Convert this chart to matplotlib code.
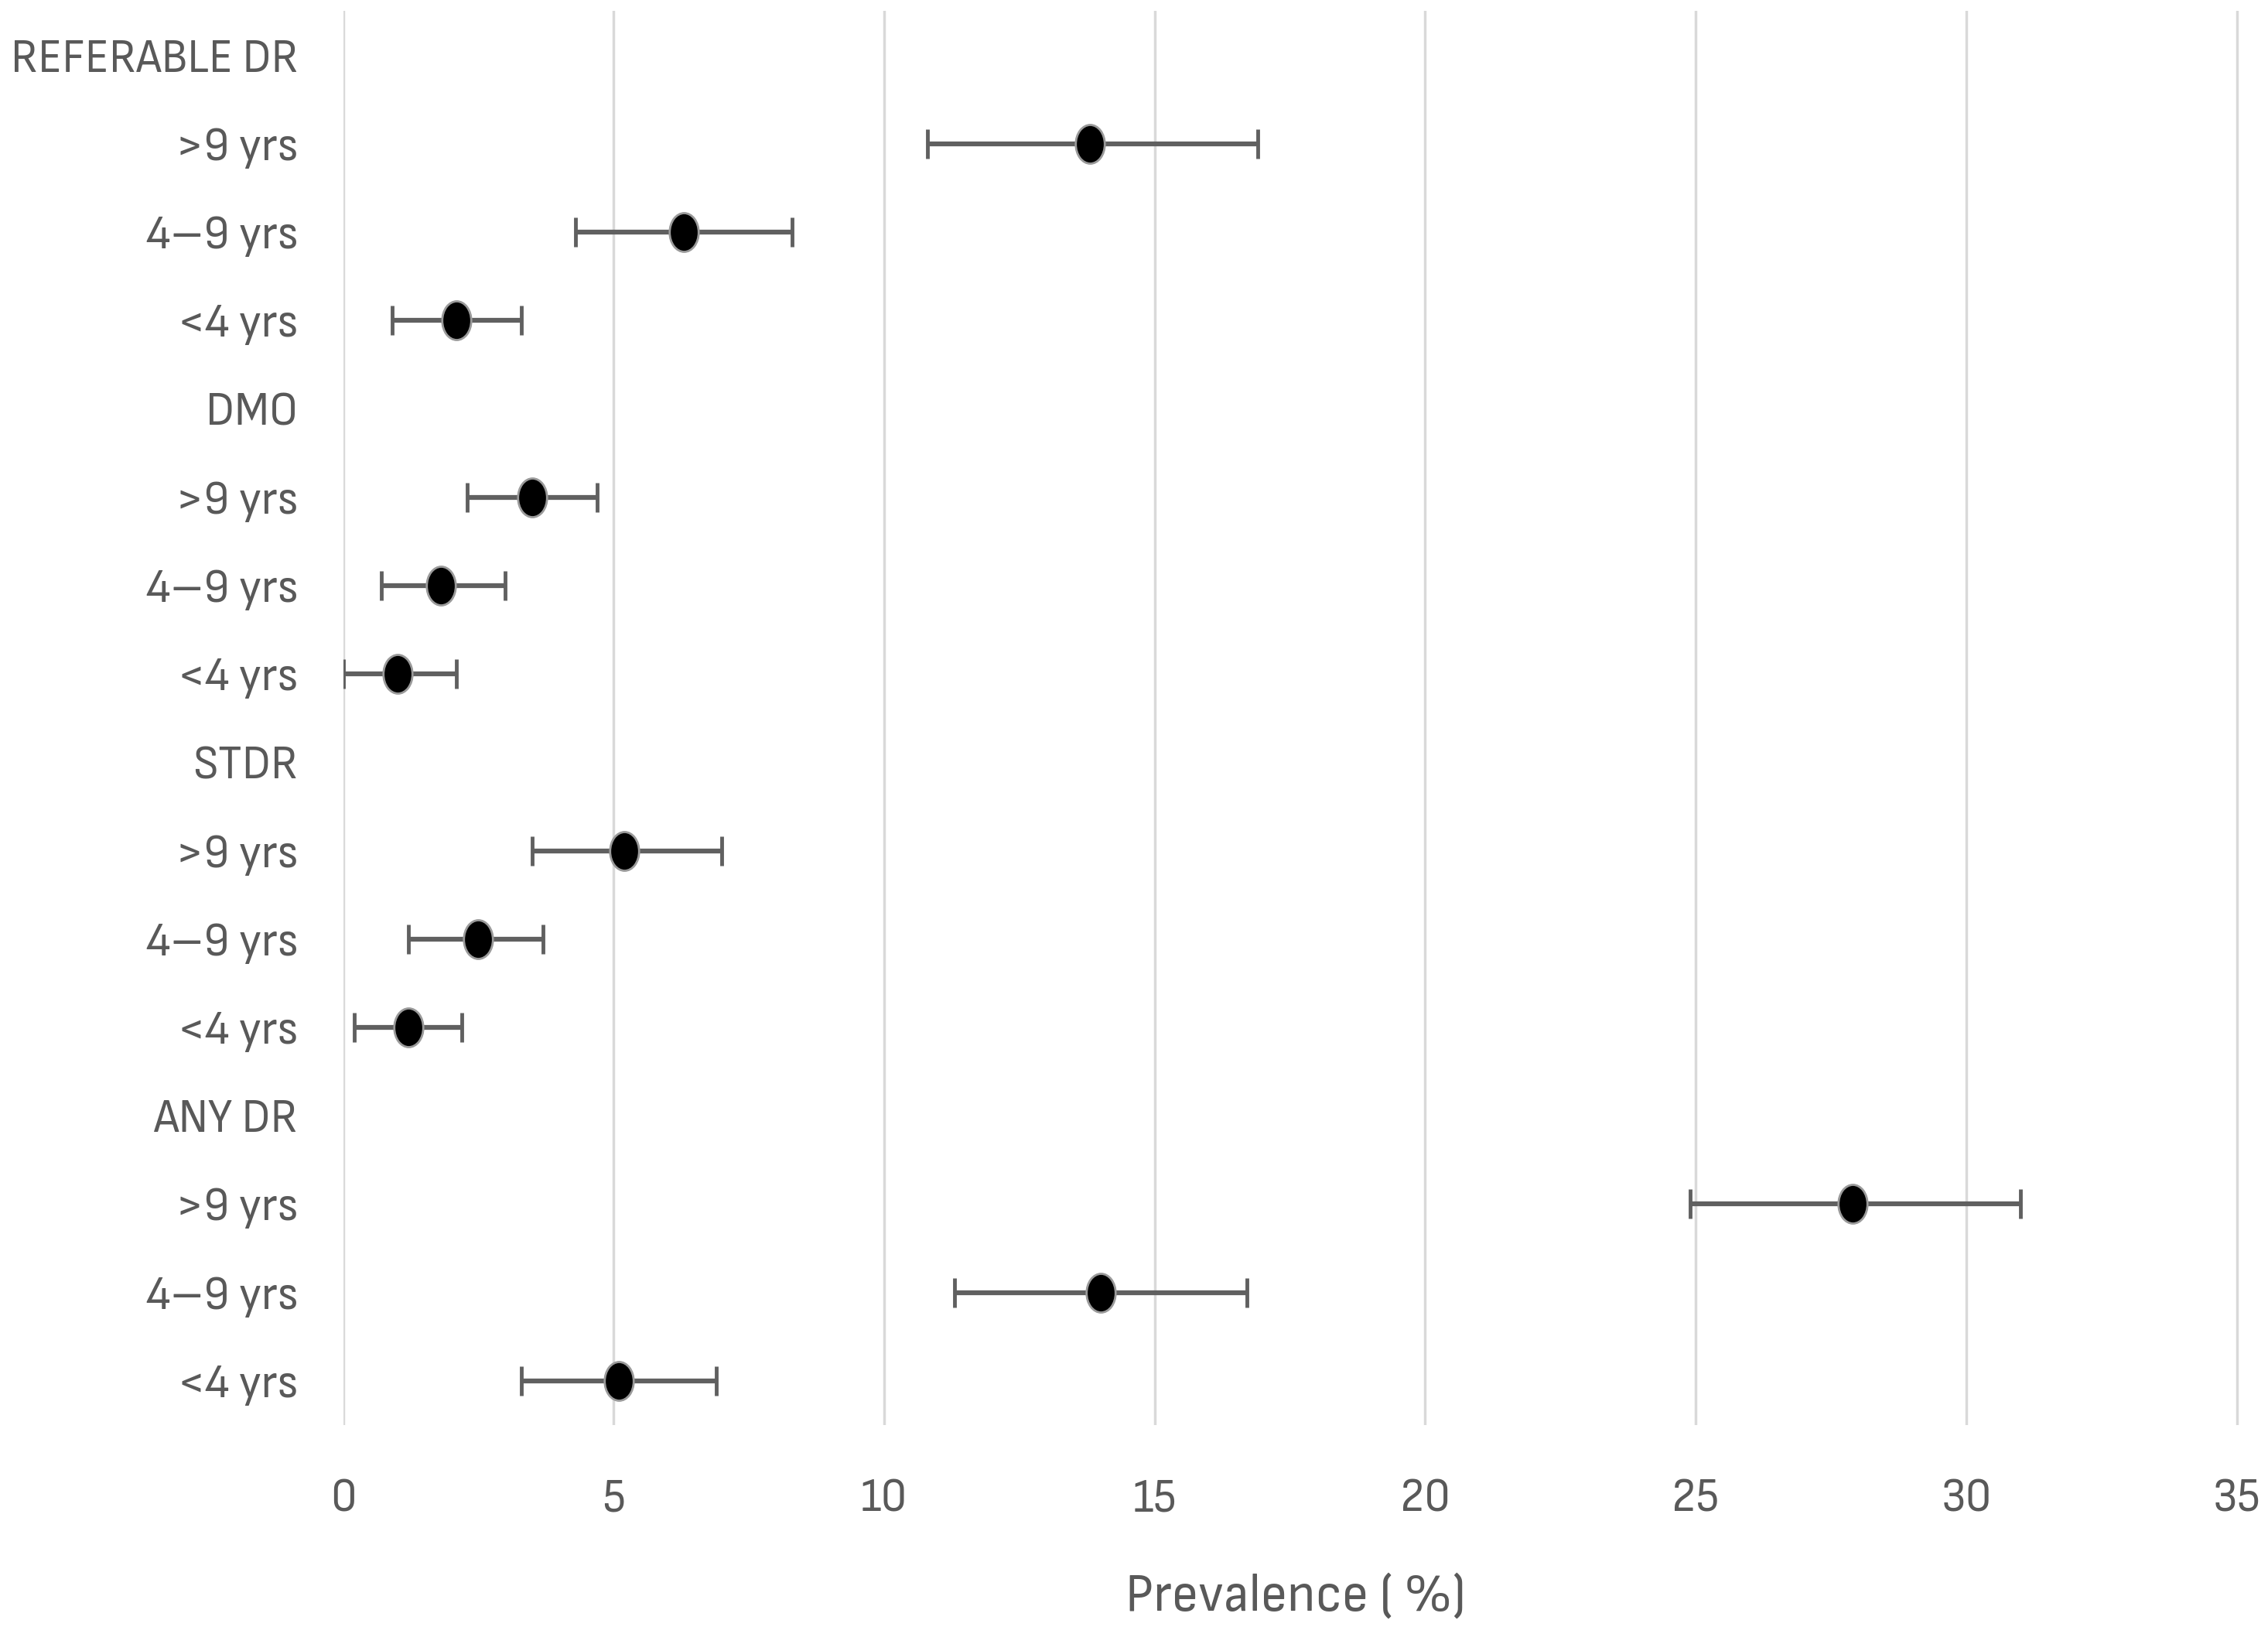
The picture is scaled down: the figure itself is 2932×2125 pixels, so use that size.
import matplotlib
matplotlib.use("Agg")
import matplotlib.pyplot as plt
import numpy as np
from matplotlib.path import Path
from matplotlib.font_manager import fontManager, FontProperties

# rows from top to bottom, headers have no estimate
labels = ['REFERABLE DR', '>9 yrs', '4–9 yrs', '<4 yrs',
          'DMO', '>9 yrs', '4–9 yrs', '<4 yrs',
          'STDR', '>9 yrs', '4–9 yrs', '<4 yrs',
          'ANY DR', '>9 yrs', '4–9 yrs', '<4 yrs']
prevalence = [np.nan, 13.8, 6.3, 2.1,
              np.nan, 3.5, 1.8, 1.0,
              np.nan, 5.2, 2.5, 1.2,
              np.nan, 27.9, 14.0, 5.1]
ci_low = [np.nan, 10.8, 4.3, 0.9,
          np.nan, 2.3, 0.7, 0.0,
          np.nan, 3.5, 1.2, 0.2,
          np.nan, 24.9, 11.3, 3.3]
ci_high = [np.nan, 16.9, 8.3, 3.3,
           np.nan, 4.7, 3.0, 2.1,
           np.nan, 7.0, 3.7, 2.2,
           np.nan, 31.0, 16.7, 6.9]
xticks = [0, 5, 10, 15, 20, 25, 30, 35]

# the original uses a narrow font, look for a condensed one
narrow = None
for f in fontManager.ttflist:
    fn = f.fname.lower()
    if f.style != 'normal' or f.weight not in (400, 'normal', 'regular'):
        continue
    if 'mono' in fn or 'serif' in fn and 'sans' not in fn:
        continue
    if ('condensed' in fn or 'narrow' in fn) and 'extra' not in fn and 'ultra' not in fn:
        if narrow is None or 'semi' in fn:
            narrow = f.fname

if narrow:
    tick_fp = FontProperties(fname=narrow, size=44)
    lab_fp = FontProperties(fname=narrow, size=50)
else:
    tick_fp = FontProperties(family=['Liberation Sans', 'DejaVu Sans'], size=36)
    lab_fp = FontProperties(family=['Liberation Sans', 'DejaVu Sans'], size=40)
text_col = '#595959'

prev = np.array(prevalence)
lo = prev - np.array(ci_low)
hi = np.array(ci_high) - prev
y = np.arange(len(labels))

# slightly tall ellipse marker like the original
circ = Path.unit_circle()
ellipse = Path(circ.vertices * np.array([0.75, 1.0]), circ.codes)

fig = plt.figure(figsize=(29.32, 21.25), dpi=100)
ax = fig.add_axes([0.1513, 0.1332, 0.8397, 0.860])

ax.errorbar(prev, y, xerr=[lo, hi], fmt='none', ecolor='#606060',
            elinewidth=4.5, capsize=14, capthick=3.5, zorder=3)
ax.plot(prev, y, linestyle='none', marker=ellipse, markersize=36,
        markerfacecolor='black', markeredgecolor='#9a9a9a',
        markeredgewidth=2, zorder=4)

ax.set_xlim(0, 35.2)
ax.set_ylim(len(labels) - 0.5, -0.5)
ax.set_xticks(xticks)
ax.set_yticks(y)
ax.set_yticklabels(labels, fontproperties=tick_fp, color=text_col)
ax.set_xticklabels([str(t) for t in xticks], fontproperties=tick_fp, color=text_col)
ax.grid(axis='x', color='#d9d9d9', linewidth=2.5)
ax.set_axisbelow(True)
for s in ax.spines.values():
    s.set_visible(False)
ax.tick_params(axis='both', length=0)
ax.tick_params(axis='y', pad=42)
ax.tick_params(axis='x', pad=50)
ax.set_xlabel('Prevalence ( %)', fontproperties=lab_fp, color=text_col, labelpad=50)

fig.savefig('out.png', dpi=100)
